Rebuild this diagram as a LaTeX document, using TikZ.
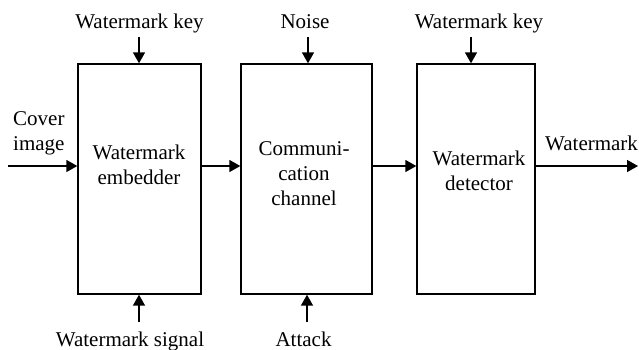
\documentclass[tikz,border=0pt]{standalone}
\usepackage{fontspec}
\setmainfont{Liberation Serif}
\usetikzlibrary{arrows.meta}

\tikzset{
  block/.style={draw, line width=1.4pt, inner sep=0pt, minimum height=230pt},
  label/.style={inner sep=0pt, font=\fontsize{21}{25}\selectfont},
  flow/.style={line width=1.5pt, -{Triangle[length=11pt,width=12pt]}},
}

\begin{document}
\begin{tikzpicture}[x=1pt,y=-1pt]
  \useasboundingbox (0,0) rectangle (639,349);

  % processing blocks
  \node[block, minimum width=123pt] (emb) at (139.5,179) {};
  \node[block, minimum width=131pt] (chan) at (306.5,179) {};
  \node[block, minimum width=118pt] (det) at (476,179) {};

  % block captions (base anchor sits on the last line)
  \node[label, align=center, anchor=base] (embtxt) at (139,184) {Watermark\\embedder};
  \node[label, align=center, anchor=base] (chantxt) at (304,205) {Communi-\\cation\\channel};
  \node[label, align=center, anchor=base] (dettxt) at (479,190) {Watermark\\detector};

  % main signal path
  \coordinate (cin) at (8,166);
  \coordinate (cout) at (638,166);
  \node[label, align=left, anchor=base west] (cover) at (13,150) {Cover\\image};
  \node[label, anchor=base west] (wmout) at (545,150) {Watermark};
  \draw[flow] (cin) -- (cin -| emb.west);
  \draw[flow] (emb.east |- cin) -- (chan.west |- cin);
  \draw[flow] (chan.east |- cin) -- (det.west |- cin);
  \draw[flow] (det.east |- cin) -- (cout);

  % side inputs from above
  \node[label, anchor=base] (key1) at (139.5,28) {Watermark key};
  \node[label, anchor=base] (noise) at (305,28) {Noise};
  \node[label, anchor=base] (key2) at (479,28) {Watermark key};
  \coordinate (k1) at (139,37);
  \coordinate (nz) at (308,37);
  \coordinate (k2) at (471,37);
  \draw[flow] (k1) -- (k1 |- emb.north);
  \draw[flow] (nz) -- (nz |- chan.north);
  \draw[flow] (k2) -- (k2 |- det.north);

  % side inputs from below
  \node[label, anchor=base] (sig) at (130,346) {Watermark signal};
  \node[label, anchor=base] (atk) at (303.5,346) {Attack};
  \coordinate (sg) at (139,322);
  \coordinate (at) at (307,322);
  \draw[flow] (sg) -- (sg |- emb.south);
  \draw[flow] (at) -- (at |- chan.south);
\end{tikzpicture}
\end{document}
